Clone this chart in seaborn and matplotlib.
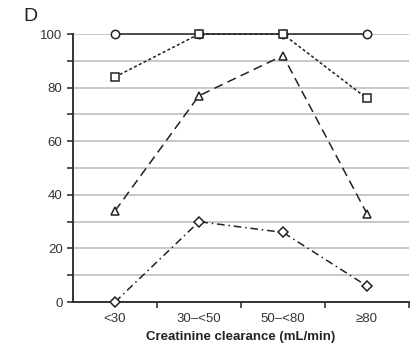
import numpy as np
import pandas as pd
import matplotlib
matplotlib.use("Agg")
import matplotlib.pyplot as plt
import seaborn as sns

sns.set_theme(style="white")
plt.rcParams['font.family'] = ['Liberation Sans', 'DejaVu Sans']

categories = ["<30", "30\u2013<50", "50\u2013<80", "\u226580"]
circles = [100, 100, 100, 100]
squares = [84, 100, 100, 76]
triangles = [34, 77, 92, 33]
diamonds = [0, 30, 26, 6]

series = [
    ("circle", circles, "o", "-", 6),
    ("square", squares, "s", (0, (2, 1.5)), 5.8),
    ("triangle", triangles, "^", (0, (6, 3.5)), 5.8),
    ("diamond", diamonds, "D", (0, (5, 2.5, 1, 2.5)), 4.6),
]

fig = plt.figure(figsize=(4.16, 3.48), dpi=100)
ax = fig.add_axes([0.1755, 0.132, 0.8075, 0.770])

x = np.arange(len(categories))
for name, vals, mk, ls, ms in series:
    df = pd.DataFrame({"x": x, "y": vals})
    sns.lineplot(data=df, x="x", y="y", ax=ax, color="#222222", linewidth=1.1,
                 linestyle=ls, marker=mk, markersize=ms, markerfacecolor="white",
                 markeredgecolor="#222222", markeredgewidth=1.1, sort=False,
                 clip_on=False, zorder=3)

ax.set_xlim(-0.5, 3.5)
ax.set_ylim(0, 100)

ax.set_yticks(np.arange(0, 101, 20))
ax.set_yticks(np.arange(10, 100, 20), minor=True)
for v in range(10, 101, 10):
    ax.axhline(v, color="#c4c4c4", linewidth=1.3, zorder=1)

ax.set_xticks(x)
ax.set_xticklabels(categories)
ax.set_xticks([0.5, 1.5, 2.5, 3.5], minor=True)
ax.tick_params(axis="x", which="major", length=0, pad=8, labelsize=9.5, colors="#333333")
ax.tick_params(axis="x", which="minor", length=4, width=1.2, direction="out", color="#333333")
ax.tick_params(axis="y", which="both", length=4, width=1.2, direction="out", color="#333333",
               labelsize=9.5, labelcolor="#333333", left=True)
ax.tick_params(axis="x", which="both", bottom=True)

for s in ["top", "right"]:
    ax.spines[s].set_visible(False)
for s in ["left", "bottom"]:
    ax.spines[s].set_color("#333333")
    ax.spines[s].set_linewidth(1.4)

ax.set_xlabel("Creatinine clearance (mL/min)", fontsize=9.5, fontweight="bold", color="#222222", labelpad=4)
ax.set_ylabel("")
fig.text(0.055, 0.94, "D", fontsize=14, color="#222222")

fig.savefig("out.png", dpi=100)
